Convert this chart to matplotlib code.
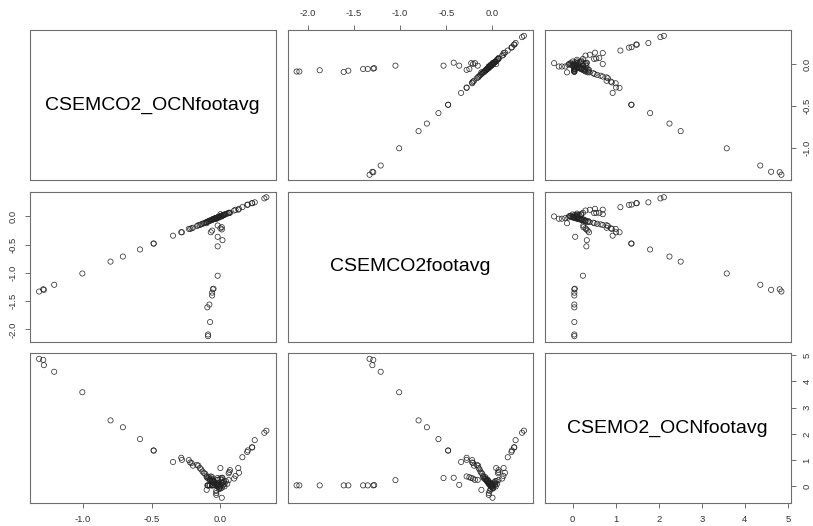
import numpy as np
import matplotlib.pyplot as plt

plt.rcParams['font.family'] = ['Liberation Sans', 'DejaVu Sans']

names = ['CSEMCO2_OCNfootavg', 'CSEMCO2footavg', 'CSEMO2_OCNfootavg']

# footprint averages, one entry per sample (same order in all three lists)
ocn_co2 = [
    # long descending branch
    -1.32, -1.29, -1.285, -1.21, -1.005, -0.80, -0.71, -0.585, -0.487, -0.485, -0.345,
    -0.285, -0.28, -0.23, -0.22, -0.21, -0.20, -0.17, -0.16, -0.15, -0.14, -0.13, -0.12, -0.11, -0.10,
    # rising branch
    0.335, 0.32, 0.25, 0.23, 0.232, 0.20, 0.195, 0.16, 0.13, 0.135, 0.07, 0.065, 0.06, 0.0,
    0.11, 0.10, 0.05, 0.04, 0.06, 0.03, 0.02,
    # land-only CO2 excursions
    -0.09, -0.09, -0.075, -0.095, -0.08, -0.06, -0.06, -0.055, -0.05, -0.02, -0.02, 0.015, -0.02,
    0.01, 0.01, -0.07, -0.06, -0.02, 0.0,
    # bulk near zero
    -0.10, -0.09, -0.085, -0.08, -0.075, -0.07, -0.065, -0.06, -0.06, -0.055, -0.05, -0.05,
    -0.045, -0.04, -0.04, -0.035, -0.03, -0.03, -0.025, -0.02, -0.02, -0.015, -0.01, -0.01,
    -0.005, 0.0, 0.0, 0.005, 0.01, 0.015, 0.02, 0.025, 0.03,
    0.01, -0.03, -0.03, -0.03, -0.10, -0.01,
]
co2 = [
    -1.33, -1.29, -1.30, -1.21, -1.01, -0.80, -0.71, -0.585, -0.48, -0.48, -0.34,
    -0.28, -0.28, -0.22, -0.22, -0.21, -0.20, -0.17, -0.155, -0.15, -0.14, -0.13, -0.12, -0.11, -0.10,
    0.34, 0.32, 0.25, 0.235, 0.235, 0.21, 0.205, 0.165, 0.12, 0.135, 0.065, 0.065, 0.06, 0.04,
    0.118, 0.105, 0.05, 0.045, 0.065, 0.035, 0.025,
    -2.12, -2.09, -1.87, -1.61, -1.56, -1.40, -1.35, -1.29, -1.28, -1.05, -0.53, -0.42, -0.36,
    -0.19, -0.23, -0.28, -0.25, -0.16, -0.21,
    -0.10, -0.09, -0.08, -0.08, -0.07, -0.07, -0.065, -0.06, -0.055, -0.05, -0.05, -0.045,
    -0.04, -0.04, -0.035, -0.03, -0.03, -0.025, -0.02, -0.02, -0.015, -0.01, -0.01, -0.005,
    0.0, 0.0, 0.005, 0.01, 0.01, 0.02, 0.02, 0.03, 0.03,
    0.0, -0.04, -0.04, -0.03, -0.12, -0.02,
]
ocn_o2 = [
    4.85, 4.81, 4.61, 4.36, 3.58, 2.51, 2.25, 1.80, 1.37, 1.36, 0.93,
    1.09, 1.01, 1.00, 0.91, 0.89, 0.79, 0.82, 0.79, 0.70, 0.65, 0.57, 0.51, 0.48, 0.39,
    2.12, 2.04, 1.76, 1.49, 1.48, 1.37, 1.31, 1.11, 0.70, 0.52, 0.62, 0.55, 0.50, 0.70,
    0.40, 0.30, 0.10, 0.20, 0.24, 0.0, 0.05,
    0.04, 0.04, 0.04, 0.04, 0.04, 0.04, 0.04, 0.04, 0.05, 0.24, 0.32, 0.33, 0.06,
    0.25, 0.32, 0.38, 0.35, 0.25, 0.30,
    0.35, 0.30, 0.36, 0.28, 0.25, 0.30, 0.22, 0.20, 0.26, 0.18, 0.15, 0.22,
    0.12, 0.10, 0.16, 0.08, 0.05, 0.12, 0.02, 0.06, 0.0, 0.10, -0.02, 0.04,
    -0.05, 0.02, -0.08, 0.08, -0.05, 0.12, 0.16, 0.20, 0.10,
    -0.43, -0.32, -0.25, -0.17, -0.13, -0.10,
]

data = [np.array(ocn_co2), np.array(co2), np.array(ocn_o2)]
ticks = [[-1.0, -0.5, 0.0], [-2.0, -1.5, -1.0, -0.5, 0.0], [0, 1, 2, 3, 4, 5]]
fmts = ['{:.1f}', '{:.1f}', '{:d}']


def limits(v):
    span = v.max() - v.min()
    return v.min() - 0.04 * span, v.max() + 0.04 * span


W, H = 813, 526
fig = plt.figure(figsize=(W / 100, H / 100), dpi=100)

lefts = [30, 287.5, 545]
tops = [30.3, 191.7, 353.3]
pw, ph = 245.5, 150
box = '#6e6e6e'
n = 3

for i in range(n):
    for j in range(n):
        ax = fig.add_axes([lefts[j] / W, (H - tops[i] - ph) / H, pw / W, ph / H])
        ax.set_xlim(*limits(data[j]))
        ax.set_ylim(*limits(data[i]))
        for s in ax.spines.values():
            s.set_color(box)
            s.set_linewidth(0.8)
        ax.tick_params(which='both', bottom=False, top=False, left=False, right=False,
                       labelbottom=False, labeltop=False, labelleft=False, labelright=False)
        if i == j:
            ax.text(0.5, 0.5, names[i], transform=ax.transAxes, ha='center', va='center',
                    fontsize=14, color='black')
        else:
            ax.scatter(data[j], data[i], s=14, facecolors='none', edgecolors='#222222',
                       linewidths=0.5)

        # axes alternate between sides, as in a pairs plot
        kw = dict(length=3.6, width=0.7, color=box, labelsize=6.8, labelcolor='#333333', pad=5)
        top_ax = i == 0 and j % 2 == 1
        bottom_ax = i == n - 1 and j % 2 == 0
        left_ax = j == 0 and i % 2 == 1
        right_ax = j == n - 1 and i % 2 == 0
        if top_ax or bottom_ax:
            ax.set_xticks(ticks[j])
            ax.set_xticklabels([fmts[j].format(t) for t in ticks[j]])
            ax.tick_params(axis='x', top=top_ax, labeltop=top_ax,
                           bottom=bottom_ax, labelbottom=bottom_ax, **kw)
        else:
            ax.set_xticks([])
        if left_ax or right_ax:
            ax.set_yticks(ticks[i])
            ax.set_yticklabels([fmts[i].format(t) for t in ticks[i]], rotation=90, va='center')
            ax.tick_params(axis='y', left=left_ax, labelleft=left_ax,
                           right=right_ax, labelright=right_ax, **kw)
        else:
            ax.set_yticks([])

fig.savefig('out.png', dpi=100, facecolor='white')
